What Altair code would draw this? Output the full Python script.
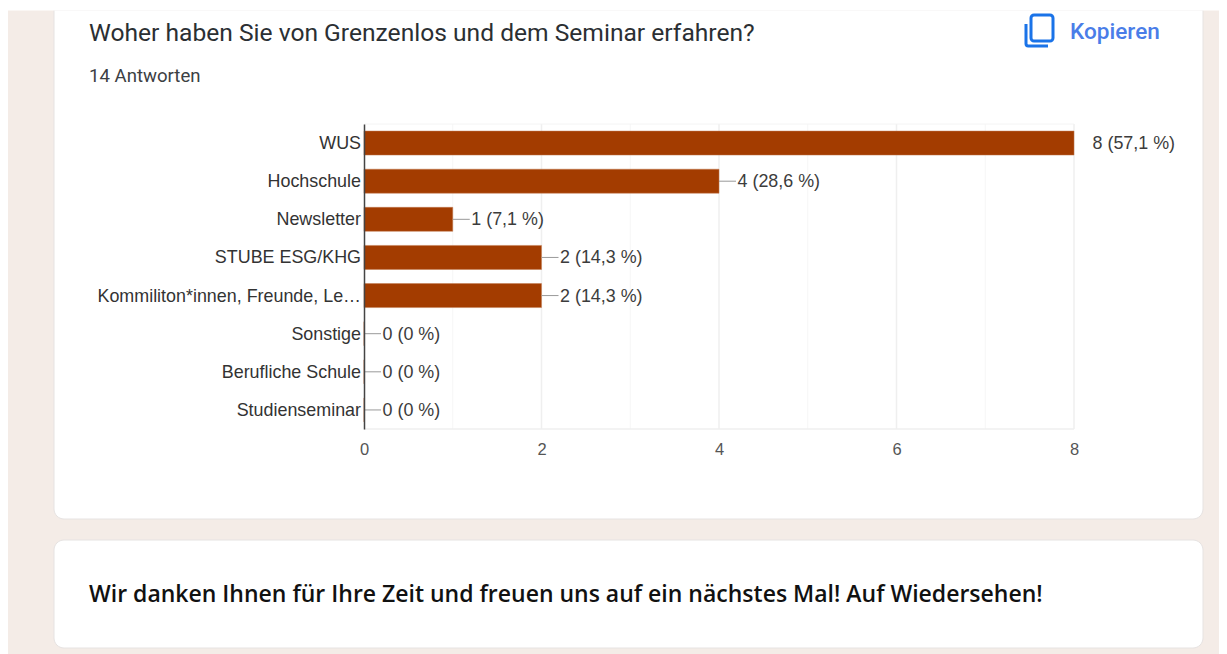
import altair as alt
import pandas as pd

# Chart values
CATEGORIES = ["WUS", "Hochschule", "Newsletter", "STUBE ESG/KHG",
              "Kommiliton*innen, Freunde, Le…", "Sonstige",
              "Berufliche Schule", "Studienseminar"]
COUNTS = [8, 4, 1, 2, 2, 0, 0, 0]
LABELS = ["8 (57,1 %)", "4 (28,6 %)", "1 (7,1 %)", "2 (14,3 %)",
          "2 (14,3 %)", "0 (0 %)", "0 (0 %)", "0 (0 %)"]
MAJOR_TICKS = [2, 4, 6, 8]
MINOR_TICKS = [1, 3, 5, 7]
AXIS_TICKS = [0, 2, 4, 6, 8]

TITLE = "Woher haben Sie von Grenzenlos und dem Seminar erfahren?"
SUBTITLE = "14 Antworten"
COPY = "Kopieren"
FAREWELL = "Wir danken Ihnen für Ihre Zeit und freuen uns auf ein nächstes Mal! Auf Wiedersehen!"

W, H = 710, 305
BEIGE = "#f4ece7"
CARD_EDGE = "#e6e3e2"
BAR = "#a33c00"
RIGHT = 855  # canvas right edge, relative to the plot

df = pd.DataFrame({"cat": CATEGORIES, "count": COUNTS, "label": LABELS})
one = pd.DataFrame({"a": [0]})

x_scale = alt.Scale(domain=[0, 8], nice=False)
y_scale = alt.Scale(domain=CATEGORIES, paddingInner=0.37, paddingOuter=0.185)
x_axis = alt.Axis(values=AXIS_TICKS, grid=False, domain=False, ticks=False, title=None,
                  labelFont="Liberation Sans", labelFontSize=16.5, labelColor="#555555",
                  labelPadding=12, zindex=1, labelFlush=False)
y_axis = alt.Axis(grid=False, ticks=False, title=None, domainColor="#444444", domainWidth=1.5,
                  labelFont="Liberation Sans", labelFontSize=17.9, labelColor="#333333",
                  labelPadding=3.5, labelLimit=400, labelOffset=1, zindex=1)
X = alt.X("count:Q", scale=x_scale, axis=x_axis)
Y = alt.Y("cat:N", scale=y_scale, sort=CATEGORIES, axis=y_axis)


def box(x0, x1, y0, y1, **kw):
    return alt.Chart(one).mark_rect(**kw).encode(
        x=alt.value(x0), x2=alt.value(x1), y=alt.value(y0), y2=alt.value(y1))


def txt(s, x, y, **kw):
    return alt.Chart(one).mark_text(text=s, align="left", baseline="alphabetic", **kw).encode(
        x=alt.value(x), y=alt.value(y))


backdrop = box(-356, RIGHT, -114, 530, fill=BEIGE)
card1 = box(-310, 839, -114, 395, fill="white", stroke=CARD_EDGE, strokeWidth=1,
            cornerRadiusBottomLeft=10, cornerRadiusBottomRight=10)
top_strip = box(-356, RIGHT, -116, -113.5, fill="white")
card2 = box(-310, 839, 416, 524, fill="white", stroke=CARD_EDGE, strokeWidth=1, cornerRadius=10)

major = alt.Chart(pd.DataFrame({"count": MAJOR_TICKS})).mark_rule(stroke="#efefef", strokeWidth=1.5).encode(
    x=X, y=alt.value(0), y2=alt.value(H))
minor = alt.Chart(pd.DataFrame({"count": MINOR_TICKS})).mark_rule(stroke="#f6f6f6", strokeWidth=1).encode(
    x=X, y=alt.value(0), y2=alt.value(H))
top_line = alt.Chart(one).mark_rule(stroke="#f4f4f4", strokeWidth=1).encode(
    x=alt.value(0), x2=alt.value(W), y=alt.value(0))
bottom_line = alt.Chart(one).mark_rule(stroke="#efefef", strokeWidth=1.5).encode(
    x=alt.value(0), x2=alt.value(W), y=alt.value(H))

bars = alt.Chart(df).mark_bar(color=BAR, stroke="#c27a50", strokeWidth=0.5).encode(
    x=X, x2=alt.datum(0), y=Y)
leaders = alt.Chart(df[df["count"] < 8]).mark_rule(stroke="#999999", strokeWidth=1, x2Offset=17).encode(
    x=X, x2="count:Q", y=Y)
labels = alt.Chart(df).mark_text(align="left", baseline="middle", dx=18.5, dy=1, font="Liberation Sans",
                                 fontSize=17.9, color="#3c3c3c").encode(x=X, y=Y, text="label:N")

title = txt(TITLE, -275, -83, font="Roboto", fontSize=24.6, color="#2b2f33")
subtitle = txt(SUBTITLE, -275, -42, font="Roboto", fontSize=18.6, color="#3c4043")
copy_text = txt(COPY, 706, -85, font="Roboto", fontSize=22.6, fontWeight=500, color="#4a7de8")
farewell = txt(FAREWELL, -275, 478, font="Open Sans", fontSize=23, fontWeight=600, color="#111111")

icon_front = box(667, 689, -109, -83, fill="transparent", stroke="#1a73e8", strokeWidth=3, cornerRadius=3)
icon_back = alt.Chart(one).mark_point(
    shape="M -1 -1 L -1 0.8 Q -1 1 -0.8 1 L 1 1", size=484, filled=False,
    stroke="#1a73e8", strokeWidth=3, opacity=1).encode(x=alt.value(673), y=alt.value(-89))

chart = alt.layer(
    backdrop, card1, top_strip, card2, minor, major, top_line, bottom_line,
    bars, leaders, labels, title, subtitle, copy_text, farewell, icon_front, icon_back,
).properties(width=W, height=H, padding=0, background="white").configure_view(stroke=None)

chart.save("out.html", embed_options={"renderer": "svg", "actions": False})
